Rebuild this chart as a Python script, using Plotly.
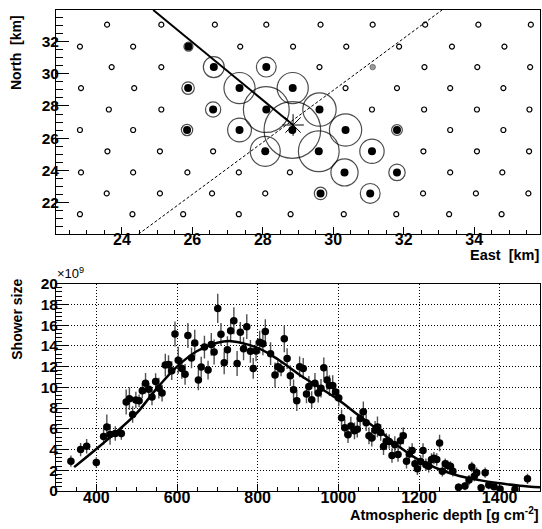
import plotly.graph_objects as go

# ---------------- detector array (top panel) ----------------
# northing of each detector row [km] and eastings of the detectors in it
row_north = [33.04, 31.68, 30.41, 29.11, 27.78, 26.51, 25.19, 23.88, 22.58, 21.29]
row_east = [
    [23.58, 25.12, 26.64, 28.10, 29.64, 31.12, 32.61, 34.12, 35.61],
    [22.81, 24.32, 25.89, 27.36, 28.86, 30.37, 31.87, 33.37, 34.86],
    [23.71, 25.12, 26.61, 28.10, 29.61, 31.12, 32.59, 34.09, 35.59],
    [22.84, 24.35, 25.88, 27.34, 28.85, 30.35, 31.81, 33.32, 34.83],
    [23.63, 25.12, 26.59, 28.10, 29.61, 31.10, 32.58, 34.08, 35.57],
    [22.81, 24.32, 25.85, 27.34, 28.84, 30.35, 31.81, 33.32, 34.83],
    [23.59, 25.08, 26.59, 28.07, 29.59, 31.10, 32.56, 34.08, 35.56],
    [22.84, 24.32, 25.86, 27.32, 28.77, 30.32, 31.81, 33.32, 34.80],
    [23.57, 25.08, 26.56, 28.07, 29.64, 31.05, 32.55, 34.05, 35.54],
    [22.81, 24.30, 25.74, 27.32, 28.79, 30.30, 31.79, 33.29, 34.78],
]

# triggered detectors and their relative signal (drawn as circle radius)
hit_east = [25.89, 26.61, 28.10, 25.88, 27.34, 28.85, 26.59, 28.10, 29.61, 25.85,
            27.34, 28.84, 30.35, 31.81, 28.07, 29.59, 31.10, 30.32, 31.81, 29.64, 31.05]
hit_north = [31.68, 30.41, 30.41, 29.11, 29.11, 29.11, 27.78, 27.78, 27.78, 26.51,
             26.51, 26.51, 26.51, 26.51, 25.19, 25.19, 25.19, 23.88, 23.88, 22.58, 22.58]
hit_signal = [1.6, 3.7, 3.5, 2.2, 5.5, 5.5, 2.7, 8.1, 5.9, 2.0,
              4.2, 10.0, 5.7, 1.9, 5.3, 7.2, 4.3, 4.8, 2.9, 2.2, 3.5]

# detector with a sub-threshold signal
weak_east = [31.12]
weak_north = [30.41]

# reconstructed core and shower-axis projections
core_east = [28.86]
core_north = [26.82]
axis_east = [24.89, 28.86]
axis_north = [33.95, 26.82]
dash_east = [24.47, 33.09]
dash_north = [20.05, 33.95]

# ---------------- longitudinal profile (bottom panel) ----------------
depth = [337, 361, 376, 400, 418, 426, 434, 447, 462, 474, 482, 490, 498, 506, 514,
         522, 530, 538, 547, 555, 563, 571, 579, 587, 595, 603, 612, 620, 627, 636,
         644, 653, 660, 668, 677, 685, 692, 701, 709, 717, 725, 733, 741, 749, 757,
         765, 773, 782, 789, 796, 805, 813, 819, 832, 843, 850, 858, 866, 873, 881,
         889, 897, 904, 913, 921, 927, 934, 942, 950, 957, 964, 972, 978, 986, 993,
         1001, 1008, 1016, 1024, 1031, 1040, 1047, 1054, 1062, 1069, 1076, 1083, 1091, 1097, 1105,
         1112, 1119, 1126, 1133, 1140, 1148, 1154, 1161, 1169, 1176, 1183, 1190, 1196, 1204, 1210,
         1217, 1224, 1231, 1237, 1244, 1251, 1258, 1265, 1271, 1278, 1284, 1298, 1314, 1324, 1331,
         1337, 1343, 1354, 1364, 1373, 1386, 1401, 1438, 1469]
size = [2.88, 3.99, 4.31, 2.76, 5.26, 6.18, 5.45, 5.54, 5.54, 8.58, 8.90, 7.38, 8.78, 8.71, 9.66,
        10.39, 9.82, 9.06, 10.55, 9.91, 9.44, 12.14, 12.20, 11.60, 15.14, 12.61, 11.82, 11.25, 14.99, 12.83,
        14.26, 10.71, 11.95, 13.88, 11.66, 14.13, 13.40, 17.61, 15.11, 12.36, 13.62, 15.45, 16.42, 12.30, 15.30,
        13.72, 15.85, 13.47, 11.82, 13.50, 14.35, 14.19, 15.37, 13.24, 11.19, 11.98, 11.76, 14.67, 12.77, 11.12,
        9.76, 8.71, 11.98, 11.82, 9.35, 10.08, 8.81, 10.39, 9.44, 9.91, 11.88, 10.71, 10.17, 10.17, 9.54,
        8.97, 7.06, 6.11, 5.42, 6.27, 5.80, 5.96, 7.00, 7.63, 6.59, 5.32, 5.10, 5.86, 6.18, 5.64,
        4.28, 4.78, 4.78, 3.42, 4.47, 3.52, 4.85, 5.32, 2.88, 3.58, 3.90, 2.63, 2.15, 2.85, 3.90,
        2.53, 2.38, 3.04, 3.17, 3.04, 4.63, 1.90, 2.63, 2.47, 2.38, 1.90, 0.35, 0.48, 1.05, 2.31,
        1.43, 1.77, 0.32, 1.77, 0.57, 0.41, 0.19, 0.16, 1.17]
size_err = [0.55, 0.65, 0.70, 0.50, 0.80, 1.20, 1.00, 0.70, 0.60, 1.20, 1.10, 0.80, 0.80, 0.60, 0.70,
            1.00, 0.60, 0.80, 0.80, 1.00, 0.80, 1.10, 0.90, 0.90, 1.20, 1.30, 1.00, 1.00, 1.20, 1.00,
            1.30, 1.00, 1.00, 1.10, 0.90, 1.10, 1.20, 1.40, 1.10, 1.10, 1.30, 1.10, 1.30, 1.20, 1.00,
            1.10, 1.20, 1.10, 1.00, 1.00, 1.10, 1.10, 1.20, 1.10, 1.20, 0.80, 0.70, 1.30, 1.00, 1.00,
            1.00, 1.00, 1.00, 1.00, 0.90, 1.00, 0.80, 1.00, 0.90, 0.90, 1.00, 1.00, 1.00, 1.00, 0.80,
            0.80, 0.80, 0.80, 0.80, 0.90, 0.80, 0.80, 0.80, 1.00, 0.80, 0.80, 0.80, 0.90, 1.00, 0.80,
            0.80, 0.80, 0.70, 0.70, 0.80, 0.70, 0.80, 0.80, 0.70, 0.70, 0.70, 0.60, 0.60, 0.60, 0.70,
            0.60, 0.60, 0.60, 0.60, 0.60, 0.80, 0.50, 0.50, 0.50, 0.50, 0.50, 0.40, 0.40, 0.50, 0.50,
            0.50, 0.50, 0.30, 0.50, 0.40, 0.30, 0.30, 0.30, 0.50]

# Gaisser-Hillas fit to the profile
fit_depth = [345, 400, 450, 500, 550, 600, 650, 700, 735, 800, 850, 900, 950, 1000,
             1050, 1100, 1150, 1200, 1250, 1300, 1350, 1400, 1450, 1500]
fit_size = [2.30, 4.05, 5.70, 7.50, 9.90, 12.00, 13.50, 14.30, 14.45, 13.80, 12.70, 11.30, 10.05, 8.80,
            7.30, 5.85, 4.30, 3.00, 2.10, 1.45, 1.05, 0.75, 0.50, 0.35]

# ---------------- figure ----------------
W, H = 542, 529
ML, MR, MT, MB = 56, 1, 4, 38
PW, PH = W - ML - MR, H - MT - MB


def px_x(px):
    return (px - ML) / PW


def px_y(py):
    return (H - MB - py) / PH


BOLD = dict(family="Liberation Sans", color="black", weight="bold")

fig = go.Figure()

# non-triggered detectors
hit_set = set(zip(hit_east, hit_north)) | set(zip(weak_east, weak_north))
off_east, off_north = [], []
for yn, xs in zip(row_north, row_east):
    for xe in xs:
        if (xe, yn) not in hit_set:
            off_east.append(xe)
            off_north.append(yn)

fig.add_trace(go.Scatter(
    x=off_east, y=off_north, mode="markers", xaxis="x", yaxis="y",
    marker=dict(symbol="circle-open", size=5, color="black", line=dict(width=1.2)),
    showlegend=False, hoverinfo="skip"))

fig.add_trace(go.Scatter(
    x=weak_east, y=weak_north, mode="markers", xaxis="x", yaxis="y",
    marker=dict(symbol="circle", size=5.5, color="#999999", line=dict(width=0.8, color="#666666")),
    showlegend=False, hoverinfo="skip"))

# signal circles, diameter proportional to signal
RING_SCALE = 5.66
fig.add_trace(go.Scatter(
    x=hit_east, y=hit_north, mode="markers", xaxis="x", yaxis="y",
    marker=dict(symbol="circle-open", size=[RING_SCALE * s for s in hit_signal],
                color="black", line=dict(width=1.2)),
    showlegend=False, hoverinfo="skip"))

fig.add_trace(go.Scatter(
    x=hit_east, y=hit_north, mode="markers", xaxis="x", yaxis="y",
    marker=dict(symbol="circle", size=8, color="black", line=dict(width=0)),
    showlegend=False, hoverinfo="skip"))

fig.add_trace(go.Scatter(
    x=dash_east, y=dash_north, mode="lines", xaxis="x", yaxis="y",
    line=dict(color="black", width=1, dash="3px,2px"),
    showlegend=False, hoverinfo="skip"))

fig.add_trace(go.Scatter(
    x=axis_east, y=axis_north, mode="lines", xaxis="x", yaxis="y",
    line=dict(color="black", width=2),
    showlegend=False, hoverinfo="skip"))

fig.add_trace(go.Scatter(
    x=core_east, y=core_north, mode="markers", xaxis="x", yaxis="y",
    marker=dict(symbol="asterisk-open", size=18, color="black", line=dict(width=1, color="black")),
    showlegend=False, hoverinfo="skip"))

# profile with errors
fig.add_trace(go.Scatter(
    x=depth, y=size, mode="markers", xaxis="x2", yaxis="y2",
    marker=dict(symbol="circle", size=7.5, color="black"),
    error_y=dict(type="data", array=size_err, visible=True, color="#505050", thickness=1.4, width=0),
    showlegend=False, hoverinfo="skip"))

fig.add_trace(go.Scatter(
    x=fit_depth, y=fit_size, mode="lines", xaxis="x2", yaxis="y2",
    line=dict(color="black", width=2.5, shape="spline", smoothing=1.0),
    showlegend=False, hoverinfo="skip"))

top_bottom = px_y(231)
bot_top = px_y(281)


def axis_style(size, standoff):
    return dict(
        showline=True, mirror=True, linecolor="black", linewidth=1,
        ticks="inside", tickcolor="black", tickwidth=1, zeroline=False,
        tickfont=dict(size=size, **BOLD), tickprefix="<b>", ticksuffix="</b>",
        ticklabelstandoff=standoff,
    )


fig.update_layout(
    width=W, height=H,
    margin=dict(l=ML, r=MR, t=MT, b=MB, pad=0),
    paper_bgcolor="white", plot_bgcolor="white",
    showlegend=False,
    xaxis=dict(domain=[0, 1], anchor="y", range=[22.13, 35.87], tick0=0, dtick=2,
               ticklen=7, showgrid=False,
               minor=dict(dtick=0.5, tick0=0, ticklen=4, ticks="inside", tickcolor="black", showgrid=False),
               **axis_style(16, -9)),
    yaxis=dict(domain=[top_bottom, 1], anchor="x", range=[20.05, 33.95], tick0=0, dtick=2,
               ticklen=13, showgrid=False,
               minor=dict(dtick=0.5, tick0=0, ticklen=7, ticks="inside", tickcolor="black", showgrid=False),
               **axis_style(15.5, -7)),
    xaxis2=dict(domain=[0, 1], anchor="y2", range=[300, 1500], tick0=0, dtick=200,
                ticklen=7, showgrid=True, gridcolor="black", gridwidth=1, griddash="1px,2px",
                minor=dict(dtick=50, tick0=0, ticklen=4, ticks="inside", tickcolor="black", showgrid=False),
                **axis_style(16, -8)),
    yaxis2=dict(domain=[0, bot_top], anchor="x2", range=[0, 20], tick0=0, dtick=2,
                ticklen=12, showgrid=True, gridcolor="black", gridwidth=1, griddash="1px,2px",
                minor=dict(dtick=0.4, tick0=0, ticklen=6, ticks="inside", tickcolor="black", showgrid=False),
                **axis_style(15.5, -6)),
)

annotations = [
    dict(text="<b>North  [km]</b>", x=px_x(16), y=px_y(47.5), textangle=-90,
         xanchor="center", yanchor="middle", font=dict(size=14, **BOLD)),
    dict(text="<b>East  [km]</b>", x=px_x(541), y=px_y(252), xanchor="right", yanchor="middle",
         font=dict(size=14.5, **BOLD)),
    dict(text="<b>Shower size</b>", x=px_x(17), y=px_y(317.5), textangle=-90,
         xanchor="center", yanchor="middle", font=dict(size=14, **BOLD)),
    dict(text="<b>Atmospheric depth [g cm<sup>-2</sup>]</b>", x=px_x(541), y=px_y(514),
         xanchor="right", yanchor="middle", font=dict(size=14.5, **BOLD)),
    dict(text="\u00d710<sup>9</sup>", x=px_x(56), y=px_y(270), xanchor="left", yanchor="middle",
         font=dict(size=13, family="Liberation Sans", color="black")),
]
for a in annotations:
    a.update(xref="paper", yref="paper", showarrow=False, borderpad=0)
fig.update_layout(annotations=annotations)

fig.write_html("out.html")
